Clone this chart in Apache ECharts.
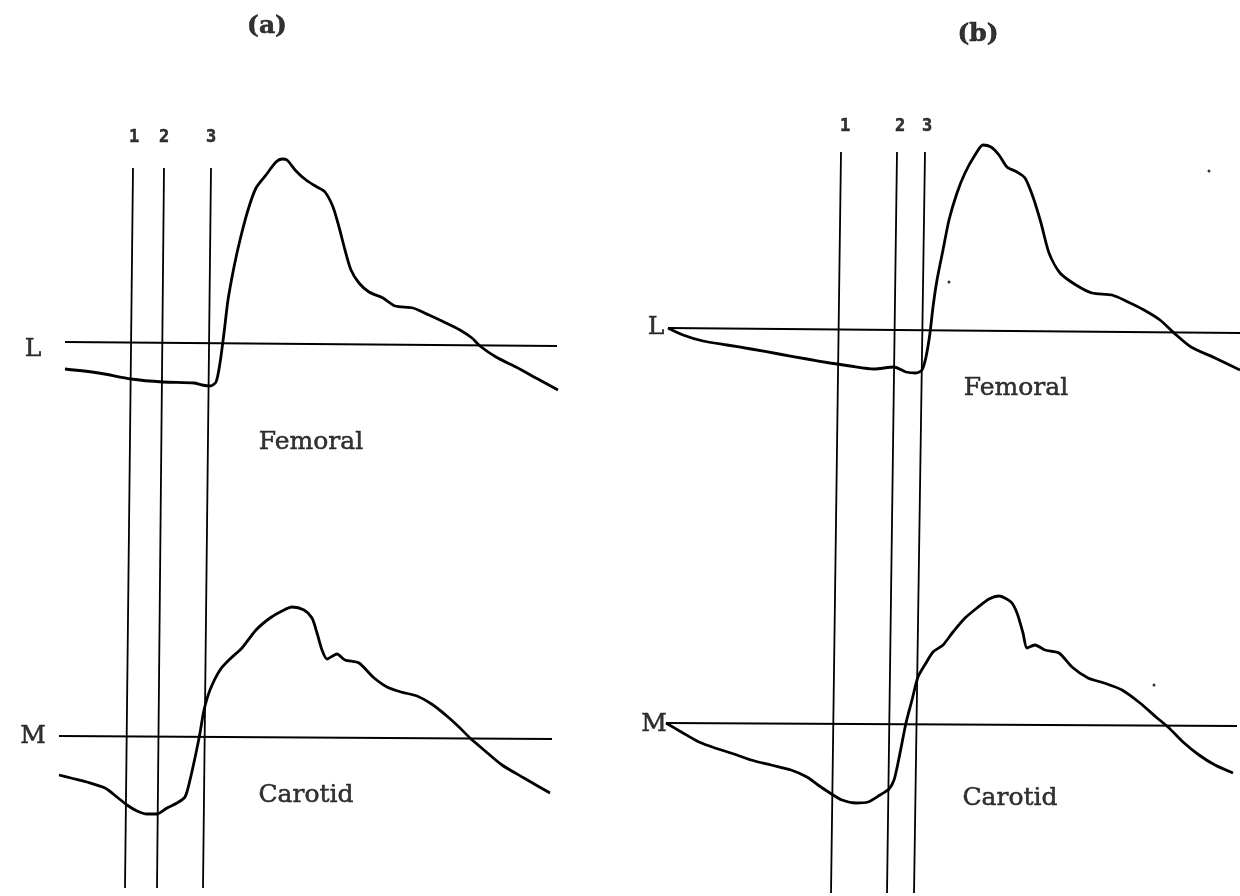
<!DOCTYPE html>
<html>
<head>
<meta charset="utf-8">
<script src="https://cdn.jsdelivr.net/npm/echarts@6/dist/echarts.min.js"></script>
<style>
  html, body { margin: 0; padding: 0; background: #fff; }
  #chart { width: 1240px; height: 896px; }
</style>
</head>
<body>
<div id="chart"></div>
<script>
// ---- Data (x = time position, y = trace level, axis inverted) ----
// Panel (a)
const femoralA = [
  [65,369],[99,373],[131,379],[163,382],[194,383],[202,385],[210,386],[216,382],
  [220,363],[224,333],[228,300],[234,267],[240,240],[248,210],[256,188],[266,175],
  [276,162],[282,159],[287,160],[296,171],[306,180],[317,187],[325,192],[333,207],
  [339,227],[345,250],[351,270],[359,283],[369,292],[383,298],[395,306],[413,308],
  [429,315],[444,322],[460,330],[472,338],[480,346],[496,357],[516,367],[536,378],[558,390]
];
const carotidA = [
  [59,775],[71,778],[87,782],[105,788],[117,797],[127,805],[137,811],[147,814],
  [157,814],[167,808],[177,803],[185,797],[190,780],[196,753],[200,733],[204,710],
  [210,690],[220,670],[230,659],[242,648],[256,630],[270,618],[282,611],[292,607],
  [304,610],[312,618],[317,633],[322,650],[327,659],[337,654],[345,660],[359,663],
  [373,677],[387,687],[401,692],[417,696],[433,705],[448,717],[460,728],[470,738],
  [484,750],[502,765],[524,778],[550,793]
];
const baselineLA = [[65,342],[557,346]];
const baselineMA = [[59,736],[552,739]];
const markerTopsA = [133,164,211];
const markerBottomsA = [125,157,203];
const markerYA = [168,888];

// Panel (b)
const femoralB = [
  [668,328],[683,335],[703,341],[727,345],[751,349],[779,354],[807,359],[830,363],
  [850,366],[874,369],[894,367],[906,372],[916,373],[922,370],[926,357],[930,333],
  [933,307],[937,280],[943,250],[949,220],[957,193],[965,173],[975,155],[983,145],
  [991,147],[999,155],[1007,167],[1017,172],[1025,178],[1033,197],[1041,223],[1049,253],
  [1060,273],[1076,285],[1092,293],[1112,295],[1128,302],[1144,310],[1160,320],[1174,333],
  [1191,347],[1215,358],[1240,370]
];
const carotidB = [
  [666,723],[683,733],[699,742],[715,748],[731,753],[751,760],[771,765],[791,770],
  [807,777],[818,785],[830,793],[842,800],[856,803],[868,802],[880,795],[889,789],
  [894,780],[898,763],[902,743],[906,723],[912,700],[918,677],[926,663],[933,652],
  [943,645],[953,632],[965,618],[977,608],[989,599],[999,596],[1011,602],[1017,613],
  [1023,633],[1027,648],[1035,645],[1045,650],[1059,653],[1072,667],[1088,678],[1104,683],
  [1122,690],[1140,703],[1156,717],[1168,727],[1183,742],[1199,755],[1215,765],[1233,773]
];
const baselineLB = [[668,328],[1240,333]];
const baselineMB = [[666,723],[1237,726]];
const markerTopsB = [841,897,925];
const markerBottomsB = [831,887,914];
const markerYB = [152,893];
const specks = [[1209,171],[949,282],[1154,685]];

// Text labels and their anchor positions (data units)
const markerNames = ['1','2','3'];
const markerLabelYA = 138;
const markerLabelYB = 127;
const markerLabelXA = [134,164,211];
const markerLabelXB = [845,900,927];
const panelTitles = [['(a)',267,26],['(b)',978,34]];
const traceNames = [['Femoral',311,442],['Carotid',306,795],['Femoral',1016,388],['Carotid',1010,798]];
const levelNames = [['L',33,349],['M',33,736],['L',656,327],['M',654,724]];

// ---- Build series ----
const black = '#000';
function traceSeries(data, w) {
  return { type: 'line', data: data, showSymbol: false, symbol: 'none', smooth: 0.25,
    lineStyle: { color: black, width: w }, silent: true, z: 3 };
}
function straight(data, w) {
  return { type: 'line', data: data, showSymbol: false, symbol: 'none',
    lineStyle: { color: black, width: w }, silent: true, z: 2 };
}
function textSeries(items, font, size, weight, border) {
  return { type: 'scatter', symbolSize: 0, silent: true, z: 5,
    data: items.map(d => ({ value: [d[1], d[2]], name: d[0] })),
    label: { show: true, position: 'inside', formatter: p => p.name, color: black,
      fontFamily: font, fontSize: size, fontWeight: weight, align: 'center', verticalAlign: 'middle',
      textBorderColor: black, textBorderWidth: border } };
}

const series = [
  traceSeries(femoralA, 2.8), traceSeries(carotidA, 2.8),
  traceSeries(femoralB, 2.8), traceSeries(carotidB, 2.8),
  straight(baselineLA, 2.2), straight(baselineMA, 2.2),
  straight(baselineLB, 2.2), straight(baselineMB, 2.2)
];
markerTopsA.forEach((t, i) => series.push(straight([[t, markerYA[0]], [markerBottomsA[i], markerYA[1]]], 1.8)));
markerTopsB.forEach((t, i) => series.push(straight([[t, markerYB[0]], [markerBottomsB[i], markerYB[1]]], 1.8)));

series.push(textSeries(panelTitles, 'DejaVu Serif', 25, 'bold', 0.6));
series.push(textSeries(traceNames, 'DejaVu Serif', 25, 'normal', 0.5));
series.push(textSeries(levelNames, 'DejaVu Serif', 25, 'normal', 0.5));
series.push(textSeries(markerNames.map((n, i) => [n, markerLabelXA[i], markerLabelYA]), 'DejaVu Sans Mono', 17, 'bold', 0.5));
series.push(textSeries(markerNames.map((n, i) => [n, markerLabelXB[i], markerLabelYB]), 'DejaVu Sans Mono', 17, 'bold', 0.5));
series.push({ type: 'scatter', data: specks, symbolSize: 3, itemStyle: { color: black }, silent: true });

const chart = echarts.init(document.getElementById('chart'), null, { renderer: 'canvas' });
chart.setOption({
  animation: false,
  backgroundColor: '#fff',
  grid: { left: 0, top: 0, width: 1240, height: 896, containLabel: false },
  xAxis: { type: 'value', min: 0, max: 1240, show: false, splitLine: { show: false } },
  yAxis: { type: 'value', min: 0, max: 896, inverse: true, show: false, splitLine: { show: false } },
  series: series
});
</script>
</body>
</html>
